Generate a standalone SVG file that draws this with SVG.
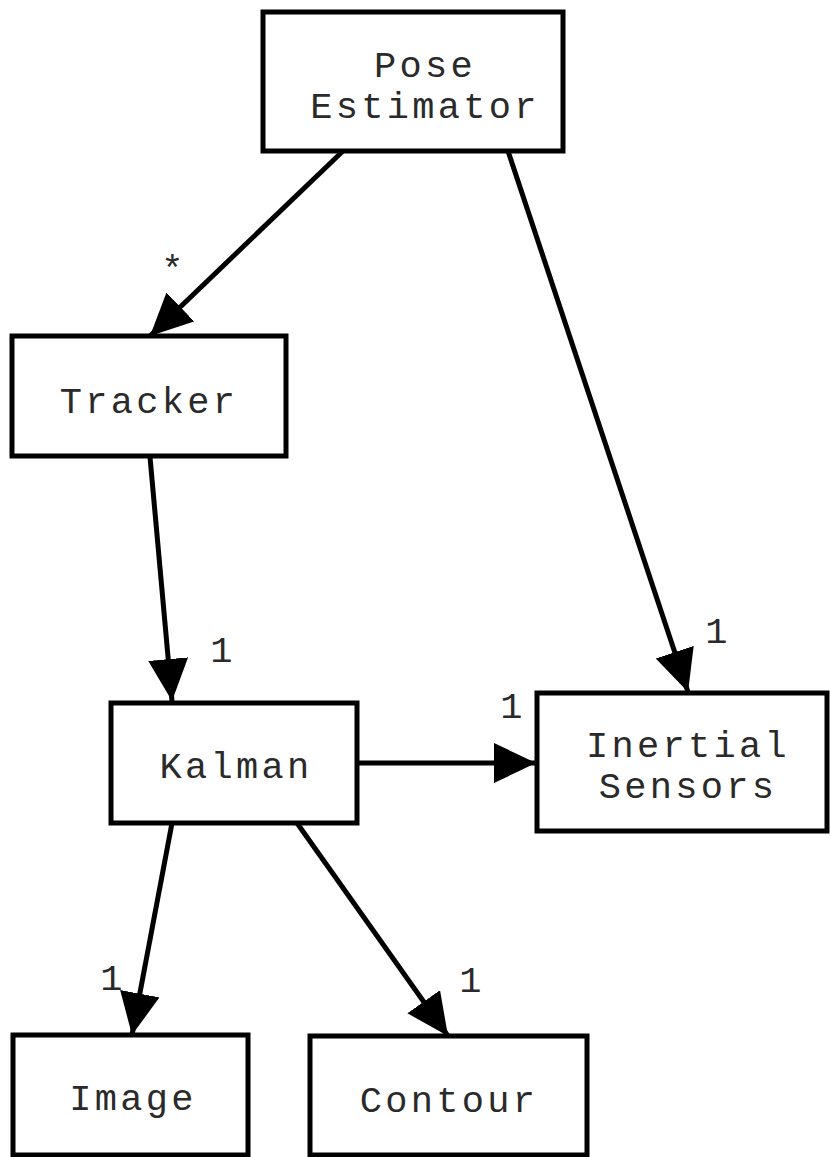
<svg xmlns="http://www.w3.org/2000/svg" width="830" height="1157" viewBox="0 0 830 1157">
<style>
.box{fill:#fff;stroke:#000;stroke-width:5}
.t{font-family:"Liberation Mono",monospace;font-size:37px;letter-spacing:3.3px;text-anchor:middle;fill:#2a2a2a}
.c{stroke:#000;stroke-width:5;fill:none}
</style>
<defs>
<marker id="ah" markerUnits="userSpaceOnUse" markerWidth="44" markerHeight="42" refX="42" refY="20" orient="auto" viewBox="0 0 44 42">
<path d="M0,0 L42,20 L0,40 z" fill="#000"/>
</marker>
</defs>
<rect width="830" height="1157" fill="#fff"/>
<g id="connectors">
<line class="c" x1="343" y1="151" x2="150" y2="336" marker-end="url(#ah)"/>
<line class="c" x1="508" y1="151" x2="688" y2="692" marker-end="url(#ah)"/>
<line class="c" x1="150" y1="457" x2="172" y2="701" marker-end="url(#ah)"/>
<line class="c" x1="357" y1="763" x2="536" y2="763" marker-end="url(#ah)"/>
<line class="c" x1="172" y1="823" x2="132" y2="1035" marker-end="url(#ah)"/>
<line class="c" x1="297" y1="823" x2="448" y2="1036" marker-end="url(#ah)"/>
<text class="t" x="174" y="281">*</text>
<text class="t" x="718" y="643">1</text>
<text class="t" x="223" y="662">1</text>
<text class="t" x="513" y="718">1</text>
<text class="t" x="113" y="990">1</text>
<text class="t" x="472" y="992">1</text>
</g>
<g id="pose-estimator">
<rect class="box" x="263" y="12" width="300" height="139"/>
<text class="t" x="425" y="77">Pose</text>
<text class="t" x="425" y="118">Estimator</text>
</g>
<g id="tracker">
<rect class="box" x="12" y="336" width="274" height="120"/>
<text class="t" x="149" y="413">Tracker</text>
</g>
<g id="kalman">
<rect class="box" x="111" y="703" width="246" height="120"/>
<text class="t" x="236" y="778">Kalman</text>
</g>
<g id="inertial-sensors">
<rect class="box" x="537" y="693" width="290" height="138"/>
<text class="t" x="688" y="757">Inertial</text>
<text class="t" x="688" y="798">Sensors</text>
</g>
<g id="image">
<rect class="box" x="13" y="1035" width="235" height="120"/>
<text class="t" x="133" y="1110">Image</text>
</g>
<g id="contour">
<rect class="box" x="310" y="1036" width="277" height="119"/>
<text class="t" x="449" y="1112">Contour</text>
</g>
</svg>
